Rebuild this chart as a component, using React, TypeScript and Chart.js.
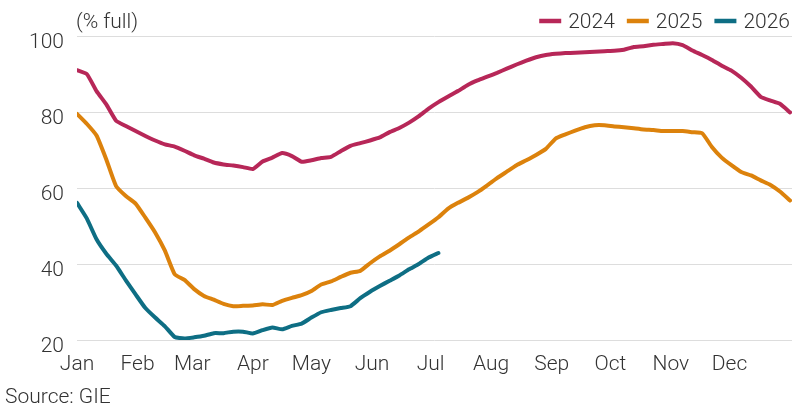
import React, { useEffect, useRef } from "react";
import { Chart, registerables } from "chart.js";

Chart.register(...registerables);

// Day of year (0 = 1 Jan) at which each storage reading is taken
const days = [
  0, 5, 10, 15, 20, 25, 30, 35, 40, 45, 50, 55, 60, 65, 70, 75, 80, 85, 90, 95,
  100, 105, 110, 115, 120, 125, 130, 135, 140, 145, 150, 155, 160, 165, 170, 175,
  180, 185, 190, 195, 200, 205, 210, 215, 220, 225, 230, 235, 240, 245, 250, 255,
  260, 265, 270, 275, 280, 285, 290, 295, 300, 305, 310, 315, 320, 325, 330, 335,
  340, 345, 350, 355, 360, 365,
];

// Gas storage fill level, % full
const fill2024 = [
  91.0, 90.0, 85.5, 82.0, 77.7, 76.3, 75.0, 73.7, 72.5, 71.5, 70.9, 69.8, 68.6,
  67.7, 66.7, 66.2, 65.9, 65.5, 65.0, 67.0, 68.0, 69.2, 68.4, 66.9, 67.3, 67.9,
  68.2, 69.7, 71.1, 71.8, 72.5, 73.3, 74.7, 75.8, 77.2, 78.9, 80.9, 82.6, 84.1,
  85.5, 87.1, 88.3, 89.3, 90.3, 91.4, 92.5, 93.5, 94.4, 95.0, 95.3, 95.5, 95.6,
  95.7, 95.85, 96.0, 96.1, 96.4, 97.1, 97.3, 97.7, 97.9, 98.1, 97.6, 96.2, 95.0,
  93.7, 92.2, 90.9, 89.0, 86.7, 84.0, 83.0, 82.1, 79.9,
];

const fill2025 = [
  79.5, 76.9, 73.8, 67.5, 60.5, 57.9, 55.9, 52.2, 48.3, 43.5, 37.3, 35.8, 33.4,
  31.6, 30.6, 29.5, 28.9, 29.0, 29.1, 29.4, 29.2, 30.3, 31.1, 31.8, 32.9, 34.6,
  35.4, 36.6, 37.7, 38.2, 40.2, 42.0, 43.5, 45.2, 47.0, 48.6, 50.4, 52.3, 54.6,
  56.1, 57.4, 58.9, 60.7, 62.6, 64.3, 66.0, 67.3, 68.7, 70.3, 73.0, 74.1, 75.1,
  76.0, 76.5, 76.5, 76.2, 76.0, 75.7, 75.4, 75.25, 75.0, 75.0, 75.0, 74.7, 74.4,
  70.8, 68.0, 66.0, 64.2, 63.3, 62.0, 60.8, 59.0, 56.7,
];

const fill2026 = [
  56.1, 52.0, 46.5, 42.7, 39.6, 35.7, 32.0, 28.4, 25.9, 23.6, 20.8, 20.4, 20.7,
  21.1, 21.8, 21.8, 22.2, 22.2, 21.7, 22.6, 23.3, 22.8, 23.7, 24.3, 25.9, 27.3,
  27.9, 28.4, 28.9, 31.0, 32.7, 34.2, 35.6, 37.0, 38.6, 40.0, 41.7, 42.9,
];

const seriesNames = ["2024", "2025", "2026"];
const seriesColors = ["#B72758", "#DC820C", "#0E6E84"];

const monthLabels = ["Jan", "Feb", "Mar", "Apr", "May", "Jun", "Jul", "Aug", "Sep", "Oct", "Nov", "Dec"];
const monthStartDays = [0, 31, 59, 90, 120, 151, 181, 212, 243, 273, 304, 334];

const yTicks = [20, 40, 60, 80, 100];
const unitLabel = "(% full)";
const sourceLabel = "Source: GIE";

const FONT = "Roboto, 'Liberation Sans', sans-serif";
const TEXT_COLOR = "#333333";

const toPoints = (vals: number[]) => vals.map((v, i) => ({ x: days[i], y: v }));

// Draws axis labels, unit caption, legend and source note on the canvas
const annotations = {
  id: "annotations",
  afterDraw(chart: any) {
    const { ctx, scales } = chart;
    const x = scales.x;
    const y = scales.y;
    ctx.save();
    ctx.fillStyle = TEXT_COLOR;
    ctx.font = `300 21px ${FONT}`;

    // y tick labels
    ctx.textAlign = "right";
    ctx.textBaseline = "alphabetic";
    yTicks.forEach((t) => {
      ctx.fillText(String(t), 64, y.getPixelForValue(t) + 12);
    });

    // month labels
    ctx.textAlign = "center";
    monthLabels.forEach((m, i) => {
      ctx.fillText(m, x.getPixelForValue(monthStartDays[i]), 370);
    });

    // unit caption and source
    ctx.textAlign = "left";
    ctx.fillText(unitLabel, 76, 28);
    ctx.fillText(sourceLabel, 5, 403);

    // legend, right aligned
    const markW = 22;
    const gapMarkText = 7;
    const gapItems = 12;
    const widths = seriesNames.map((n) => ctx.measureText(n).width);
    let total = 0;
    widths.forEach((w, i) => {
      total += markW + gapMarkText + w + (i < widths.length - 1 ? gapItems : 0);
    });
    let cx = 790 - total;
    seriesNames.forEach((n, i) => {
      ctx.strokeStyle = seriesColors[i];
      ctx.lineWidth = 4.5;
      ctx.lineCap = "butt";
      ctx.beginPath();
      ctx.moveTo(cx, 21);
      ctx.lineTo(cx + markW, 21);
      ctx.stroke();
      cx += markW + gapMarkText;
      ctx.fillText(n, cx, 28);
      cx += widths[i] + gapItems;
    });
    ctx.restore();
  },
};

export default function App() {
  const canvasRef = useRef<HTMLCanvasElement | null>(null);

  useEffect(() => {
    document.body.style.margin = "0";
    const canvas = canvasRef.current;
    if (!canvas) return;
    const data = [fill2024, fill2025, fill2026];
    const chart = new Chart(canvas, {
      type: "line",
      data: {
        datasets: seriesNames.map((name, i) => ({
          label: name,
          data: toPoints(data[i]),
          borderColor: seriesColors[i],
          backgroundColor: seriesColors[i],
          borderWidth: 4,
          pointRadius: 0,
          tension: 0.15,
          borderCapStyle: "round" as const,
          borderJoinStyle: "round" as const,
          fill: false,
        })),
      },
      options: {
        animation: false,
        responsive: false,
        devicePixelRatio: 1,
        layout: { padding: { left: 77, right: 8, top: 36, bottom: 71 } },
        plugins: {
          legend: { display: false },
          tooltip: { enabled: false },
        },
        scales: {
          x: {
            type: "linear",
            min: 0,
            max: 366,
            grid: { display: false, drawTicks: false },
            border: { display: false },
            ticks: { display: false },
          },
          y: {
            min: 20,
            max: 100,
            grid: { color: "#dddddd", lineWidth: 1, drawTicks: false },
            border: { display: false },
            ticks: { display: false, stepSize: 20 },
          },
        },
      },
      plugins: [annotations],
    });
    return () => chart.destroy();
  }, []);

  return (
    <div style={{ position: "absolute", left: 0, top: 0, width: 800, height: 411, background: "#ffffff" }}>
      <canvas ref={canvasRef} width={800} height={411} style={{ display: "block" }} />
    </div>
  );
}
